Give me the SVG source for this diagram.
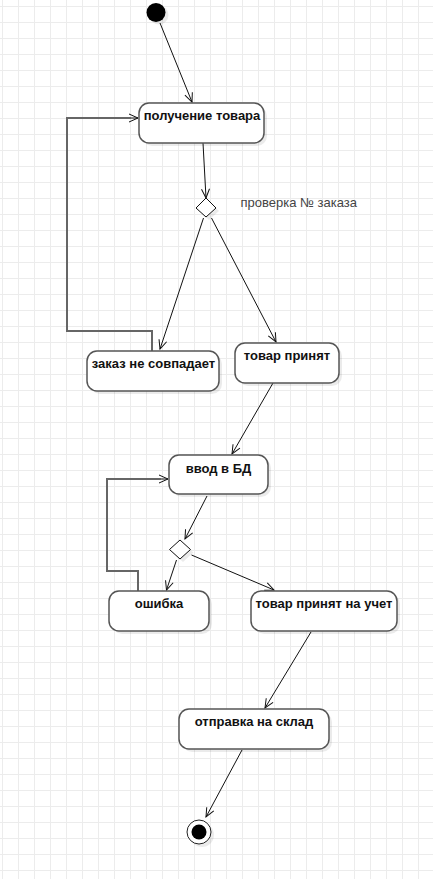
<svg xmlns="http://www.w3.org/2000/svg" width="433" height="879" viewBox="0 0 433 879">
<style>
.node rect.b{fill:#fff;stroke:#555;stroke-width:1.5}
.node rect.s{fill:#000;opacity:0.08}
.t{font-family:"Liberation Sans",Arial,sans-serif;font-size:13px;font-weight:bold;fill:#111;text-anchor:middle}
.lbl{font-family:"Liberation Sans",Arial,sans-serif;font-size:13px;fill:#444}
.c{fill:none;stroke:#111;stroke-width:1}
.loop{fill:none;stroke:#666;stroke-width:2}
</style>
<defs>
<pattern id="grid" patternUnits="userSpaceOnUse" x="2" y="6" width="16" height="16">
<path d="M0.5,0 V16 M0,0.5 H16" stroke="#ececec" stroke-width="1" fill="none"/>
</pattern>
<marker id="arr" markerUnits="userSpaceOnUse" viewBox="-10 -6 12 12" refX="0" refY="0" markerWidth="12" markerHeight="12" orient="auto">
<path d="M-9,-4 L0,0 L-9,4" fill="none" stroke="#111" stroke-width="1"/>
</marker>
</defs>
<rect width="433" height="879" fill="#fff"/>
<rect width="433" height="879" fill="url(#grid)"/>

<g id="connectors">
<line class="c" x1="160" y1="23" x2="192" y2="102" marker-end="url(#arr)"/>
<polyline class="loop" points="152,351 152,331 67,331 67,118 131,118"/>
<line class="c" x1="131" y1="118" x2="138" y2="118" marker-end="url(#arr)"/>
<line class="c" x1="203" y1="143" x2="206" y2="198" marker-end="url(#arr)"/>
<line class="c" x1="203.5" y1="218" x2="160" y2="349" marker-end="url(#arr)"/>
<line class="c" x1="211.5" y1="218" x2="276" y2="342" marker-end="url(#arr)"/>
<line class="c" x1="273" y1="383" x2="232" y2="454" marker-end="url(#arr)"/>
<polyline class="loop" points="138,591 138,571 107,571 107,479 161,479"/>
<line class="c" x1="161" y1="479" x2="168" y2="479" marker-end="url(#arr)"/>
<line class="c" x1="207" y1="496" x2="185" y2="539" marker-end="url(#arr)"/>
<line class="c" x1="176.5" y1="560" x2="166.5" y2="590" marker-end="url(#arr)"/>
<line class="c" x1="191.5" y1="555" x2="274" y2="590" marker-end="url(#arr)"/>
<line class="c" x1="311" y1="632" x2="265" y2="708" marker-end="url(#arr)"/>
<line class="c" x1="242" y1="750" x2="206" y2="817" marker-end="url(#arr)"/>
</g>

<g id="start">
<circle cx="159" cy="15" r="9.5" fill="#000" opacity="0.08"/>
<circle cx="156" cy="12.5" r="9.5" fill="#000"/>
</g>

<g id="n1" class="node">
<rect class="s" x="142" y="106" width="125" height="40" rx="10"/>
<rect class="b" x="139" y="103" width="125" height="40" rx="10"/>
<text class="t" x="202" y="120">получение товара</text>
</g>

<g id="d1">
<path d="M209,201 L219,211 L209,220 L199,211 Z" fill="#000" opacity="0.08"/>
<path d="M206,198 L216,208 L206,217 L196,208 Z" fill="#fff" stroke="#111" stroke-width="1"/>
<text class="lbl" x="240.5" y="207">проверка № заказа</text>
</g>

<g id="n2" class="node">
<rect class="s" x="90" y="354" width="132" height="40" rx="10"/>
<rect class="b" x="87" y="351" width="132" height="40" rx="10"/>
<text class="t" x="153.5" y="367.5">заказ не совпадает</text>
</g>

<g id="n3" class="node">
<rect class="s" x="238" y="346" width="104" height="40" rx="10"/>
<rect class="b" x="235" y="343" width="104" height="40" rx="10"/>
<text class="t" x="287" y="360">товар принят</text>
</g>

<g id="n4" class="node">
<rect class="s" x="172" y="458" width="99" height="39" rx="10"/>
<rect class="b" x="169" y="455" width="99" height="39" rx="10"/>
<text class="t" x="218.5" y="472.5">ввод в БД</text>
</g>

<g id="d2">
<path d="M183,543 L193.5,552.5 L183,562 L172.5,552.5 Z" fill="#000" opacity="0.08"/>
<path d="M180,540 L190.5,549.5 L180,559 L169.5,549.5 Z" fill="#fff" stroke="#111" stroke-width="1"/>
</g>

<g id="n5" class="node">
<rect class="s" x="112" y="594" width="100" height="40" rx="10"/>
<rect class="b" x="109" y="591" width="100" height="40" rx="10"/>
<text class="t" x="159" y="607.5">ошибка</text>
</g>

<g id="n6" class="node">
<rect class="s" x="254" y="594" width="146" height="40" rx="10"/>
<rect class="b" x="251" y="591" width="146" height="40" rx="10"/>
<text class="t" x="324" y="607.5">товар принят на учет</text>
</g>

<g id="n7" class="node">
<rect class="s" x="182" y="712" width="150" height="40" rx="10"/>
<rect class="b" x="179" y="709" width="150" height="40" rx="10"/>
<text class="t" x="254" y="726">отправка на склад</text>
</g>

<g id="end">
<circle cx="202" cy="835" r="12" fill="#000" opacity="0.08"/>
<circle cx="199" cy="832" r="12" fill="#fff" stroke="#222" stroke-width="1"/>
<circle cx="199" cy="832" r="7.5" fill="#000"/>
</g>
</svg>
